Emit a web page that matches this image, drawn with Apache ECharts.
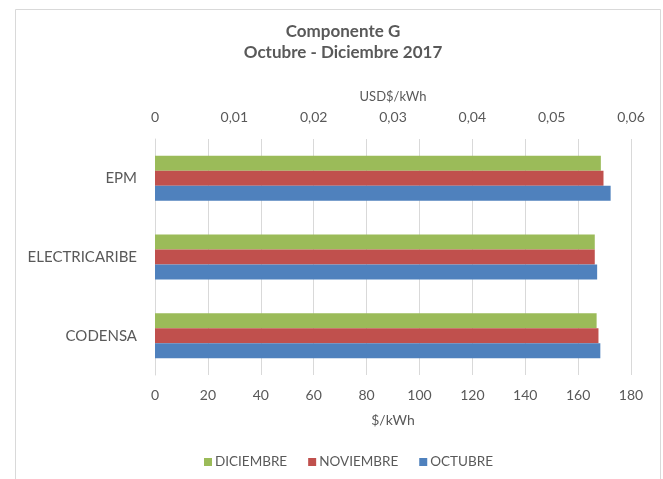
<!DOCTYPE html>
<html>
<head>
<meta charset="utf-8">
<script src="https://cdn.jsdelivr.net/npm/echarts@6/dist/echarts.min.js"></script>
<style>
html,body{margin:0;padding:0;background:#fff;}
#chart{width:663px;height:479px;}
</style>
</head>
<body>
<div id="chart"></div>
<script>
var categories = ['CODENSA', 'ELECTRICARIBE', 'EPM'];
var diciembre = [167.0, 166.3, 168.6];
var noviembre = [167.7, 166.3, 169.6];
var octubre = [168.4, 167.2, 172.3];
var seriesNames = ['DICIEMBRE', 'NOVIEMBRE', 'OCTUBRE'];
var colors = ['#9BBB59', '#C0504D', '#4F81BD'];
var FONT = 'Lato';
var TXT = '#595959';

var chart = echarts.init(document.getElementById('chart'), null, {renderer: 'canvas'});
var values = [diciembre, noviembre, octubre];
var option = {
  animation: false,
  textStyle: {fontFamily: FONT},
  graphic: [{
    type: 'rect', silent: true, z: -1,
    shape: {x: 15.5, y: 9.5, width: 645, height: 480},
    style: {fill: '#fff', stroke: '#d9d9d9', lineWidth: 1}
  }],
  title: {
    text: 'Componente G\nOctubre - Diciembre 2017',
    left: 338, textAlign: 'center', top: 16,
    textStyle: {fontFamily: FONT, fontSize: 17, fontWeight: 'bold', color: TXT, lineHeight: 21}
  },
  legend: {
    data: seriesNames,
    top: 450, left: 199,
    icon: 'rect', itemWidth: 8, itemHeight: 8, itemGap: 21,
    textStyle: {fontFamily: FONT, fontSize: 13.5, color: TXT, padding: [0, 0, 0, -2]}
  },
  grid: {left: 155, right: 32, top: 139, bottom: 104, containLabel: false},
  xAxis: [{
    type: 'value', position: 'bottom', min: 0, max: 180, interval: 20,
    name: '$/kWh', nameLocation: 'middle', nameGap: 38,
    nameTextStyle: {fontFamily: FONT, fontSize: 14, color: TXT},
    axisLine: {show: false}, axisTick: {show: false},
    axisLabel: {fontFamily: FONT, fontSize: 14, color: TXT, margin: 13},
    splitLine: {show: true, lineStyle: {color: '#d9d9d9', width: 1}}
  }, {
    type: 'value', position: 'top', min: 0, max: 0.06, interval: 0.01,
    name: 'USD$/kWh', nameLocation: 'middle', nameGap: 36,
    nameTextStyle: {fontFamily: FONT, fontSize: 13, color: TXT},
    axisLine: {show: false}, axisTick: {show: false},
    axisLabel: {fontFamily: FONT, fontSize: 14, color: TXT, margin: 15,
      formatter: function (v) { return v === 0 ? '0' : v.toFixed(2).replace('.', ','); }},
    splitLine: {show: false}
  }],
  yAxis: {
    type: 'category', data: categories,
    axisLine: {show: true, lineStyle: {color: '#d9d9d9'}},
    axisTick: {show: false},
    axisLabel: {fontFamily: FONT, fontSize: 15, color: TXT, margin: 18}
  },
  series: seriesNames.map(function (n, i) {
    return {
      name: n, type: 'bar', xAxisIndex: 0, data: values[i],
      barWidth: 15, barGap: '0%',
      itemStyle: {color: colors[i]}
    };
  })
};
chart.setOption(option);
</script>
</body>
</html>
